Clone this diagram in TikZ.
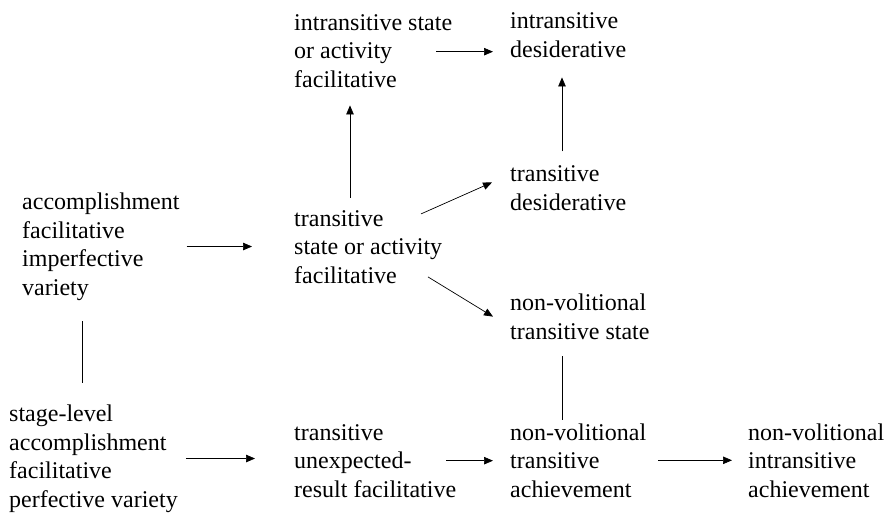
\documentclass[tikz,border=0pt]{standalone}
\usepackage{fontspec}
\setmainfont{Liberation Serif}
\usepackage{tikz}
\usetikzlibrary{arrows.meta}
\usetikzlibrary{calc}

\tikzset{
    stage/.style={anchor=base west, align=left, inner sep=0pt, font=\fontsize{24}{28.5}\selectfont},
    arr/.style={-{Triangle[length=9pt,width=7.5pt]}, line width=0.7pt},
    lnk/.style={line width=0.7pt}
}

\begin{document}
\begin{tikzpicture}[x=1pt, y=-1pt]
    \useasboundingbox (0,0) rectangle (888,514);

    \node[stage] (C) at (294,87) {intransitive state\\or activity\\facilitative};
    \node[stage] (D) at (510,57) {intransitive\\desiderative};
    \node[stage] (E) at (510,210) {transitive\\desiderative};
    \node[stage] (A) at (22,295) {accomplishment\\facilitative\\imperfective\\variety};
    \node[stage] (B) at (294,283) {transitive\\state or activity\\facilitative};
    \node[stage] (F) at (510,339) {non-volitional\\transitive state};
    \node[stage] (G) at (9,507) {stage-level\\accomplishment\\facilitative\\perfective variety};
    \node[stage] (H) at (294,497) {transitive\\unexpected-\\result facilitative};
    \node[stage] (I) at (510,497) {non-volitional\\transitive\\achievement};
    \node[stage] (J) at (748,497) {non-volitional\\intransitive\\achievement};

    \coordinate (ab) at ($(A.south west)+(60,0)$);
    \coordinate (bc) at ($(B.north west)+(56,0)$);
    \coordinate (ed) at ($(E.north west)+(52,0)$);
    \coordinate (fi) at ($(F.south west)+(52,0)$);

    \draw[arr, shorten <=7pt, shorten >=42pt] (A.east) -- (A.east -| B.west);
    \draw[arr, shorten <=12pt, shorten >=18pt] (bc) -- (bc |- C.south);
    \draw[arr, shorten >=17pt] ($(C.west)+(142,1)$) -- ($(C.west)+(216,1)$);
    \draw[arr, shorten <=14pt, shorten >=20pt] (ed) -- (ed |- D.south);
    \draw[arr] ($(B.north west)+(127,4)$) -- ($(E.north west)+(-18,17)$);
    \draw[arr] ($(B.north west)+(134,67)$) -- ($(F.north west)+(-17,23)$);
    \draw[lnk, shorten <=21pt, shorten >=22pt] (ab) -- (ab |- G.north);
    \draw[lnk, shorten <=17pt, shorten >=3pt] (fi) -- (fi |- I.north);
    \draw[arr, shorten <=8pt, shorten >=39pt] (G.east) -- (G.east -| H.west);
    \draw[arr, shorten >=17pt] ($(H.west)+(152,0)$) -- (H.west -| I.west);
    \draw[arr, shorten <=12pt, shorten >=16pt] (I.east) -- (I.east -| J.west);
\end{tikzpicture}
\end{document}
